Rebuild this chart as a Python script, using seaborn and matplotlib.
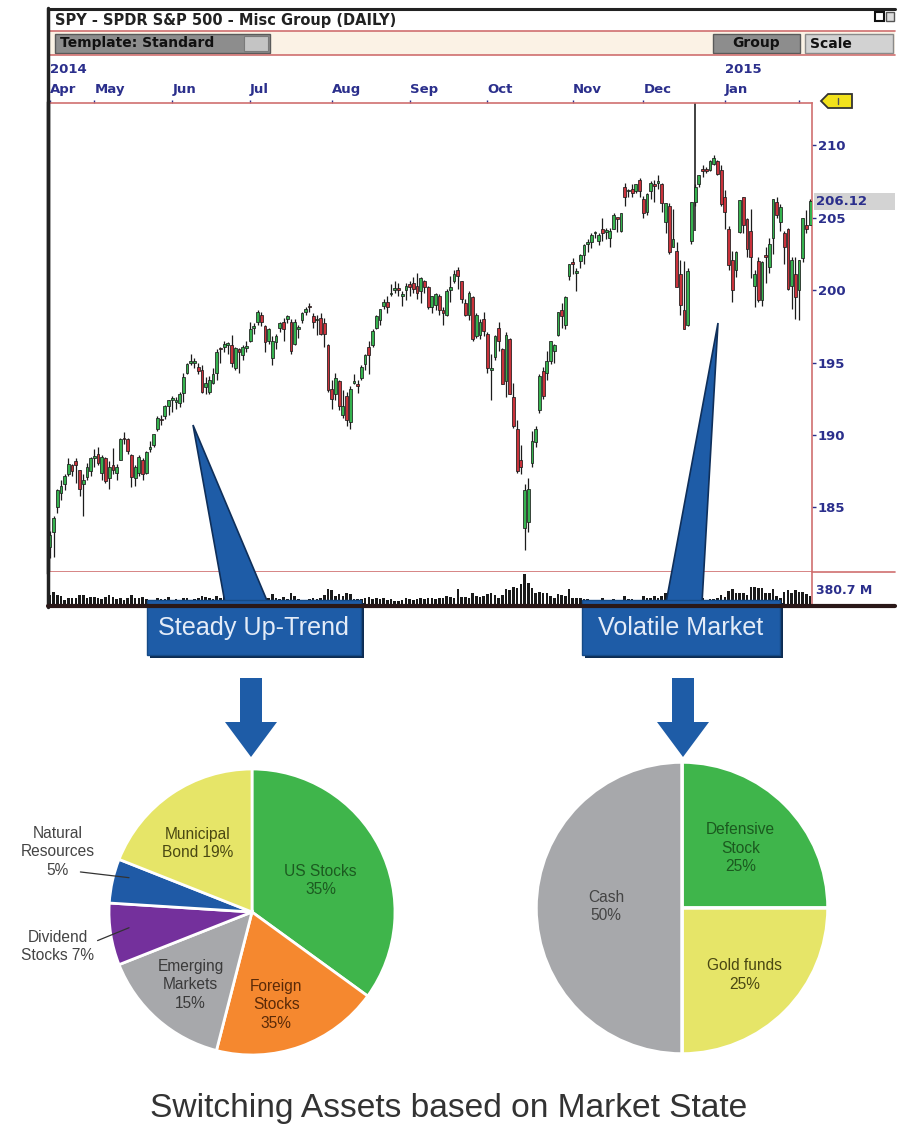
import numpy as np
import pandas as pd
import matplotlib
matplotlib.use("Agg")
import matplotlib.pyplot as plt
import seaborn as sns
from matplotlib.patches import Rectangle, Polygon
from matplotlib import font_manager as fm

# ---------------- data ----------------
start_date, end_date = "2014-04-14", "2015-02-05"
market_holidays = ["2014-04-18", "2014-05-26", "2014-07-04", "2014-09-01",
                   "2014-11-27", "2014-12-25", "2015-01-01", "2015-01-19"]
dividend_date = "2014-12-19"
dividend_line_low = 204.1

opens = [
    182.3, 183.3, 185.0, 186.0, 186.6, 187.3, 187.9, 188.2, 187.6, 186.6, 187.1, 187.5,
    188.4, 188.7, 187.4, 188.4, 187.0, 187.9, 187.4, 188.3, 189.8, 189.7, 188.6, 187.0, 187.4, 188.3, 187.4, 189.0, 189.3, 190.4, 191.1, 191.3, 192.0,
    192.4, 192.3, 192.2, 192.9, 194.3, 195.0, 195.0, 194.7, 194.5, 193.3, 193.0, 193.6, 194.3, 196.0, 196.1, 196.2, 196.2, 194.6, 195.9, 195.5, 196.0,
    196.5, 197.4, 197.8, 198.3, 197.5, 196.5, 195.3, 196.4, 197.4, 197.8, 198.0, 197.8, 196.3, 197.3, 197.9, 198.5, 198.9, 198.2, 197.9, 198.1, 197.7, 196.2,
    193.2, 192.8, 193.7, 191.4, 192.7, 190.9, 193.6, 193.5, 193.9, 194.9, 196.1, 196.2, 197.4, 197.9, 198.9, 199.2, 199.7, 200.0, 200.1, 199.6, 200.0,
    200.4, 200.5, 200.3, 199.9, 200.6, 200.2, 198.8, 199.0, 199.6, 198.6, 198.3, 200.0, 200.6, 201.4, 200.6, 199.1, 198.3, 199.5, 196.8, 196.9, 198.0,
    197.0, 194.5, 195.4, 197.4, 195.9, 193.7, 196.6, 192.6, 190.4, 188.3, 183.6, 184.0, 188.1, 189.5, 191.7, 194.4, 194.3, 195.1, 195.8, 196.9, 198.6, 197.6, 201.0,
    201.9, 201.2, 202.0, 202.4, 203.2, 203.3, 203.9, 203.4, 204.2, 204.0, 203.6, 204.2, 205.0, 204.1, 207.1, 206.8, 207.0, 206.8, 207.6,
    206.3, 205.4, 206.8, 207.3, 207.4, 207.3, 204.7, 205.8, 203.0, 202.7, 201.1, 198.6, 197.6, 203.4, 206.1, 207.3, 208.3, 208.3, 208.3, 208.7, 208.9, 208.3,
    206.4, 204.2, 202.1, 201.4, 204.0, 206.4, 204.9, 204.1, 200.3, 202.0, 199.3, 202.4, 201.6, 203.6, 206.1, 204.7, 203.9, 204.2, 200.3, 201.1,
    200.0, 202.2, 204.5, 204.5,
]
highs = [
    183.4, 184.4, 186.3, 186.9, 187.3, 188.4, 188.0, 188.4, 187.6, 187.3, 188.1, 188.5,
    189.0, 189.2, 188.6, 188.5, 188.2, 189.1, 188.0, 189.8, 190.2, 189.8, 188.7, 187.9, 188.6, 188.4, 188.9, 189.6, 190.1, 191.3, 191.4, 192.1, 192.4,
    192.7, 192.6, 193.0, 194.3, 195.0, 195.6, 195.3, 195.0, 194.8, 194.0, 194.1, 194.6, 195.9, 196.1, 196.5, 196.4, 196.9, 196.1, 196.0, 196.2, 196.5,
    197.8, 197.7, 198.6, 198.5, 197.6, 197.4, 196.8, 197.0, 197.8, 198.1, 198.3, 198.0, 198.0, 197.6, 198.5, 198.8, 199.1, 198.4, 198.3, 198.4, 198.1, 196.3,
    193.8, 194.3, 193.8, 193.1, 193.0, 193.4, 194.2, 193.8, 194.8, 195.6, 196.5, 197.3, 198.3, 198.7, 199.4, 199.6, 200.4, 200.6, 200.5, 199.9, 200.5,
    200.6, 200.9, 201.2, 200.9, 200.7, 200.3, 199.6, 199.8, 199.7, 198.8, 200.1, 201.0, 201.4, 201.6, 200.6, 199.4, 199.9, 199.6, 198.4, 198.0, 198.5,
    197.1, 195.6, 196.9, 197.8, 196.0, 197.1, 196.7, 193.6, 191.0, 189.3, 186.6, 187.0, 190.3, 190.6, 194.2, 194.7, 195.8, 196.5, 196.3, 198.5, 199.1, 199.6, 201.8,
    202.2, 201.5, 202.5, 203.2, 203.5, 203.9, 204.1, 203.9, 205.0, 204.3, 204.3, 205.3, 205.0, 205.3, 207.4, 207.0, 207.3, 207.3, 207.7,
    206.5, 206.7, 207.5, 207.6, 207.9, 207.4, 206.0, 206.0, 205.6, 203.3, 202.1, 202.0, 201.5, 206.1, 207.3, 207.9, 208.6, 208.5, 209.0, 209.3, 209.0, 208.6,
    206.9, 204.4, 202.7, 202.7, 206.2, 206.4, 205.0, 205.6, 201.4, 202.3, 202.0, 203.0, 203.6, 206.3, 206.4, 205.9, 204.1, 204.3, 202.3, 202.3,
    202.1, 205.0, 205.5, 206.3,
]
lows = [
    181.5, 181.6, 184.6, 185.5, 186.2, 187.2, 187.2, 186.7, 185.8, 184.4, 186.9, 187.2,
    187.8, 187.9, 186.9, 186.7, 186.3, 187.3, 186.9, 188.3, 189.4, 188.7, 186.4, 186.5, 187.2, 186.9, 187.3, 188.8, 189.2, 190.3, 190.7, 191.1, 191.4,
    191.6, 191.8, 191.9, 192.3, 194.2, 194.8, 194.6, 194.2, 192.9, 192.8, 192.8, 193.5, 193.8, 195.0, 195.7, 195.6, 194.7, 194.5, 194.3, 195.2, 195.7,
    196.4, 197.0, 197.6, 197.5, 195.7, 196.3, 194.8, 195.9, 197.1, 196.5, 197.7, 195.6, 196.2, 196.7, 197.7, 198.3, 198.5, 197.4, 196.9, 196.9, 196.1, 193.0,
    191.8, 192.4, 191.7, 191.2, 190.6, 190.4, 193.5, 192.9, 193.8, 194.5, 194.2, 196.1, 197.3, 197.6, 198.7, 198.4, 199.6, 199.8, 199.6, 198.9, 199.3,
    199.6, 199.8, 199.4, 199.1, 199.8, 198.7, 198.4, 198.6, 198.3, 197.6, 198.2, 199.2, 200.5, 200.1, 199.1, 198.2, 197.9, 196.5, 196.7, 196.6, 196.8,
    194.3, 192.4, 195.2, 195.8, 193.5, 192.6, 192.8, 190.5, 187.4, 187.3, 182.1, 183.3, 187.8, 189.2, 191.5, 192.5, 193.8, 194.9, 195.0, 196.8, 197.4, 197.3, 200.7,
    201.1, 199.9, 201.5, 201.8, 202.6, 202.9, 203.6, 203.1, 203.4, 203.5, 203.0, 204.2, 204.0, 204.0, 205.8, 206.4, 206.4, 206.7, 206.4,
    205.0, 205.2, 206.3, 206.1, 207.0, 205.4, 203.9, 202.5, 203.0, 200.2, 198.3, 197.3, 197.5, 203.2, 205.8, 207.1, 207.8, 208.1, 208.2, 208.6, 207.9, 205.8,
    204.2, 201.4, 199.2, 200.9, 203.9, 203.9, 202.3, 200.8, 198.8, 199.2, 198.9, 200.5, 201.2, 202.5, 205.0, 204.1, 201.8, 200.0, 198.7, 198.0,
    197.9, 201.9, 203.9, 204.5,
]
closes = [
    183.1, 184.3, 186.2, 186.5, 187.2, 188.0, 187.5, 187.9, 186.3, 186.9, 187.8, 188.4,
    188.4, 188.1, 188.5, 186.8, 187.8, 187.6, 187.8, 189.7, 189.7, 188.9, 187.1, 187.8, 188.5, 187.3, 188.8, 189.2, 190.1, 191.2, 191.0, 192.0, 192.4,
    192.5, 192.4, 192.8, 194.0, 194.9, 195.1, 195.1, 194.4, 193.0, 193.6, 193.8, 194.2, 195.7, 195.9, 196.3, 196.3, 195.0, 196.0, 195.7, 196.1, 196.0,
    197.3, 197.5, 198.5, 197.8, 196.4, 197.3, 196.5, 196.8, 197.7, 197.3, 198.2, 195.8, 197.8, 197.4, 198.4, 198.7, 198.8, 197.8, 197.9, 197.0, 197.0, 193.1,
    192.5, 193.9, 192.0, 192.0, 191.0, 193.2, 193.7, 193.4, 194.7, 195.5, 195.5, 197.2, 198.2, 198.7, 199.2, 198.8, 199.8, 200.0, 200.0, 199.7, 200.3,
    200.2, 200.1, 199.8, 200.8, 200.2, 198.8, 199.6, 199.7, 198.6, 198.4, 199.9, 200.2, 201.1, 201.0, 199.4, 198.3, 199.8, 196.6, 198.3, 197.8, 197.2,
    194.6, 194.6, 196.8, 196.5, 193.5, 196.9, 192.8, 190.6, 187.5, 187.8, 186.2, 186.3, 189.6, 190.4, 194.1, 192.7, 195.1, 196.5, 196.2, 198.5, 198.2, 199.5, 201.8,
    201.8, 201.2, 202.4, 203.1, 203.2, 203.8, 204.0, 203.8, 203.9, 204.0, 204.1, 205.2, 204.9, 205.3, 206.4, 206.9, 206.7, 207.3, 206.8,
    205.3, 206.6, 207.4, 207.2, 207.5, 206.0, 206.0, 202.6, 203.5, 200.2, 199.0, 197.3, 201.3, 206.1, 207.1, 207.9, 208.2, 208.2, 208.9, 209.1, 208.0, 205.9,
    205.4, 201.7, 200.0, 202.6, 206.2, 204.5, 202.8, 202.3, 201.1, 199.3, 201.9, 202.3, 203.2, 206.3, 205.2, 205.7, 203.0, 200.1, 202.1, 199.5,
    202.1, 205.0, 204.2, 206.12,
]
volumes_m = [
    125, 155, 120, 110, 60, 85, 85, 90, 125, 120, 85, 100,
    95, 90, 70, 100, 120, 95, 70, 85, 60, 80, 120, 90, 80, 100, 75, 60, 55, 80, 70, 75, 95,
    60, 75, 60, 85, 80, 65, 70, 80, 110, 95, 80, 75, 115, 80, 150, 60, 115, 85, 95, 90, 105,
    80, 55, 60, 60, 110, 80, 135, 80, 70, 100, 75, 140, 105, 70, 60, 55, 70, 80, 70, 90, 120, 190,
    185, 110, 135, 110, 145, 135, 70, 75, 70, 80, 95, 75, 80, 70, 90, 60, 70, 50, 50, 60, 80,
    70, 65, 70, 85, 70, 90, 90, 70, 85, 90, 105, 100, 85, 200, 100, 100, 85, 150, 110, 95, 110,
    130, 150, 120, 85, 120, 190, 180, 220, 210, 260, 380, 270, 210, 145, 160, 150, 145, 110, 85, 130, 125, 115, 190,
    90, 85, 90, 70, 70, 55, 50, 65, 90, 60, 60, 75, 60, 60, 110, 70, 70, 55, 65,
    110, 90, 80, 105, 80, 105, 140, 150, 140, 190, 200, 230, 190, 180, 200, 95, 80, 40, 75, 70, 90, 120,
    100, 170, 200, 140, 150, 150, 120, 220, 220, 210, 210, 150, 150, 200, 110, 90, 160, 180, 150, 180,
    160, 160, 130, 110,
]
volume_scale_label = "380.7 M"
price_ticks = [185, 190, 195, 200, 205, 210]

left_labels = ["US Stocks\n35%", "Foreign\nStocks\n35%", "Emerging\nMarkets\n15%",
               "Dividend\nStocks 7%", "Natural\nResources\n5%", "Municipal\nBond 19%"]
left_values = [35, 19, 15, 7, 5, 19]
left_colors = ["#3fb54b", "#f5882f", "#a7a8ab", "#74309c", "#1f5aa6", "#e6e568"]

right_labels = ["Defensive\nStock\n25%", "Gold funds\n25%", "Cash\n50%"]
right_values = [25, 25, 50]
right_colors = ["#3fb54b", "#e6e568", "#a7a8ab"]

chart_title = "SPY - SPDR S&P 500 - Misc Group (DAILY)"
callouts = ["Steady Up-Trend", "Volatile Market"]
main_title = "Switching Assets based on Market State"

# ---------------- style ----------------
sns.set_theme(style="white")
avail = {f.name for f in fm.fontManager.ttflist}
HAS_NARROW = "Liberation Sans Narrow" in avail
NARROW = "Liberation Sans Narrow" if HAS_NARROW else "Liberation Sans"
NS = 1.0 if HAS_NARROW else 0.86
plt.rcParams["font.family"] = ["DejaVu Sans"]

NAVY = "#2b2f8c"
RED = "#cf6f6f"
DARK = "#222222"
BLUE = "#1e5ca7"

W, H = 898, 1140
fig = plt.figure(figsize=(W / 100, H / 100), dpi=100)
fig.patch.set_facecolor("white")


def rect(x0, y0, x1, y1):
    return [x0 / W, 1 - y1 / H, (x1 - x0) / W, (y1 - y0) / H]


# background (header) axes in pixel coordinates
bg = fig.add_axes([0, 0, 1, 1], zorder=0)
bg.set_xlim(0, W)
bg.set_ylim(H, 0)
bg.axis("off")
bg.add_patch(Rectangle((48, 31), 847, 24, fc="#fbf2e5", ec="none"))
bg.plot([48, 895], [31, 31], color=RED, lw=1.2)
bg.plot([48, 895], [55, 55], color=RED, lw=1.2)
bg.text(55, 20, chart_title, fontsize=10.5, fontweight="bold", color=DARK, va="center")
bg.add_patch(Rectangle((55, 34), 215, 19, fc="#8d8d8d", ec="#5a5a5a", lw=1))
bg.add_patch(Rectangle((244, 36), 24, 15, fc="#c4c4c4", ec="#7a7a7a", lw=0.8))
bg.text(60, 43.5, "Template: Standard", fontsize=10, fontweight="bold", color="#111", va="center")
bg.add_patch(Rectangle((713, 34), 87, 19, fc="#8d8d8d", ec="#5a5a5a", lw=1))
bg.text(756, 43.5, "Group", fontsize=10, fontweight="bold", color="#111", va="center", ha="center")
bg.add_patch(Rectangle((805, 34), 88, 19, fc="#d2d2d2", ec="#8a8a8a", lw=1))
bg.text(810, 43.5, "Scale", fontsize=10, fontweight="bold", color="#111", va="center")
bg.add_patch(Rectangle((875, 12), 9, 9, fc="white", ec="#111", lw=1.5))
bg.add_patch(Rectangle((886, 12), 8, 9, fc="#ddd", ec="#555", lw=1))

# ---------------- price axes ----------------
dates = pd.bdate_range(start_date, end_date, freq="C", holidays=market_holidays)
x = np.arange(len(dates))
o = np.array(opens)
h = np.array(highs)
l = np.array(lows)
c = np.array(closes)

ax = fig.add_axes(rect(48, 103, 812, 572), zorder=2)
ax.set_facecolor("white")
up = c >= o
ax.vlines(x, l, h, color="#1c1c1c", lw=0.9, zorder=2)
ax.bar(x, np.maximum(np.abs(c - o), 0.12), bottom=np.minimum(o, c), width=0.75,
       color=np.where(up, "#35b24e", "#c9323b"), edgecolor="#1c1c1c", linewidth=0.55, zorder=3)
div_idx = int(np.where(dates == pd.Timestamp(dividend_date))[0][0])
ymin, ymax = 180.55, 212.9
ax.vlines([div_idx], dividend_line_low, ymax, color="#333333", lw=1.3, zorder=1)
ax.set_xlim(-0.5, len(x) - 0.5)
ax.set_ylim(ymin, ymax)

ax.yaxis.tick_right()
ax.set_yticks(price_ticks)
ax.set_yticklabels([str(t) for t in price_ticks])
ax.tick_params(axis="y", direction="out", length=3, width=1, colors=NAVY, labelsize=9.5, pad=1)

month_idx = [0] + [i for i in range(1, len(dates)) if dates[i].month != dates[i - 1].month]
month_lab = []
for i in month_idx:
    d = dates[i]
    name = d.strftime("%b")
    if i == 0 or d.month == 1:
        name = f"{d.year}\n{name}"
    if d.month == 2:
        name = ""
    month_lab.append(name)
ax.xaxis.tick_top()
ax.set_xticks(month_idx)
ax.set_xticklabels(month_lab)
ax.tick_params(axis="x", direction="out", length=2, width=1, colors=NAVY, labelsize=9.5, pad=3)
for t in ax.get_xticklabels():
    t.set_horizontalalignment("left")
    t.set_fontweight("bold")
    t.set_linespacing(1.75)
for t in ax.get_yticklabels():
    t.set_fontweight("bold")
for s in ["top", "right", "bottom"]:
    ax.spines[s].set_color(RED)
    ax.spines[s].set_linewidth(1.2)
ax.spines["left"].set_color(DARK)
ax.spines["left"].set_linewidth(2.5)
ax.set_xlabel("")
ax.set_ylabel("")

# ---------------- volume axes ----------------
axv = fig.add_axes(rect(48, 572, 812, 605), zorder=2)
sns.barplot(x=x, y=np.array(volumes_m), native_scale=True, color="#1a1a1a", saturation=1,
            width=0.7, linewidth=0, ax=axv)
axv.set_xlim(-0.5, len(x) - 0.5)
axv.set_ylim(0, 400)
axv.set_xticks([])
axv.set_yticks([])
axv.set_xlabel("")
axv.set_ylabel("")
for s in ["top", "bottom", "left"]:
    axv.spines[s].set_visible(False)
axv.spines["right"].set_color(RED)
axv.spines["right"].set_linewidth(1.2)

# ---------------- pies ----------------
PIE_FS = 13 * NS
axl = fig.add_axes(rect(252 - 143, 912 - 143, 252 + 143, 912 + 143), zorder=2)
axl.pie(left_values, colors=left_colors, startangle=90, counterclock=False, radius=1,
        wedgeprops=dict(edgecolor="white", linewidth=2))
axl.set_xlim(-1, 1)
axl.set_ylim(-1, 1)
axl.set_aspect("equal")
axl.axis("off")
left_pos = [(0.48, 0.22), (0.17, -0.65), (-0.43, -0.51), (-1.36, -0.24), (-1.36, 0.42), (-0.38, 0.48)]
left_tc = ["#1c5a20", "#5a2a08", "#3a3a3a", "#444444", "#444444", "#4a4812"]
for lab, (px, py), tc in zip(left_labels, left_pos, left_tc):
    axl.text(px, py, lab, ha="center", va="center", fontsize=PIE_FS, color=tc,
             family=NARROW, linespacing=1.3, clip_on=False)
axl.plot([-1.20, -0.86], [0.28, 0.24], color="#333", lw=0.9, clip_on=False)
axl.plot([-1.08, -0.86], [-0.20, -0.11], color="#333", lw=0.9, clip_on=False)

axr = fig.add_axes(rect(682 - 146, 908 - 146, 682 + 146, 908 + 146), zorder=2)
axr.pie(right_values, colors=right_colors, startangle=90, counterclock=False, radius=1,
        wedgeprops=dict(edgecolor="white", linewidth=2.5))
axr.set_xlim(-1, 1)
axr.set_ylim(-1, 1)
axr.set_aspect("equal")
axr.axis("off")
right_pos = [(0.40, 0.41), (0.43, -0.46), (-0.52, 0.01)]
right_tc = ["#1b5a1f", "#4a4812", "#444444"]
for lab, (px, py), tc in zip(right_labels, right_pos, right_tc):
    axr.text(px, py, lab, ha="center", va="center", fontsize=PIE_FS, color=tc,
             family=NARROW, linespacing=1.3)

# ---------------- overlay (frame, callouts, arrows, title) ----------------
ov = fig.add_axes([0, 0, 1, 1], zorder=5)
ov.set_xlim(0, W)
ov.set_ylim(H, 0)
ov.axis("off")
ov.patch.set_alpha(0)
ov.plot([48, 895], [9, 9], color=DARK, lw=2.2)
ov.plot([48, 48], [8, 607], color=DARK, lw=2.5)
ov.plot([812, 895], [572, 572], color=RED, lw=1.2)
ov.plot([48, 895], [606, 606], color="#2a1818", lw=3)
ov.add_patch(Polygon([(821, 101), (828, 94), (852, 94), (852, 108), (828, 108)],
                     closed=True, fc="#f2e21c", ec="#333", lw=1.3))
ov.plot([838, 838], [98, 104], color="#555", lw=1)
ov.add_patch(Rectangle((814, 193), 81, 17, fc="#d3d3d3", ec="none"))
ov.text(816, 201.5, f"{closes[-1]:.2f}", fontsize=9.5, fontweight="bold", color=NAVY, va="center")
ov.text(816, 590, volume_scale_label, fontsize=9, fontweight="bold", color=NAVY, va="center")

# pointers
ov.add_patch(Polygon([(193, 425), (225, 603), (268, 603)], closed=True, fc=BLUE, ec="#0f2f5a", lw=1.2))
ov.add_patch(Polygon([(718, 323), (666, 603), (702, 603)], closed=True, fc=BLUE, ec="#0f2f5a", lw=1.2))
# boxes
for (bx0, bx1), txt in zip([(147, 361), (582, 780)], callouts):
    ov.add_patch(Rectangle((bx0 + 3, 603), bx1 - bx0, 55, fc="#0d2c52", ec="none"))
    ov.add_patch(Rectangle((bx0, 600), bx1 - bx0, 55, fc=BLUE, ec="#154a86", lw=1))
    ov.text((bx0 + bx1) / 2, 628, txt, ha="center", va="center", fontsize=21 * NS,
            color="#e4ecf8", family=NARROW)
# down arrows
for cx in [251, 683]:
    ov.add_patch(Polygon([(cx - 11, 678), (cx + 11, 678), (cx + 11, 722), (cx + 26, 722),
                          (cx, 757), (cx - 26, 722), (cx - 11, 722)],
                         closed=True, fc=BLUE, ec="none"))

ov.text(449, 1108, main_title, ha="center", va="center", fontsize=28 * NS, color="#333333",
        family=NARROW)

fig.savefig("out.png", dpi=100, facecolor="white")
